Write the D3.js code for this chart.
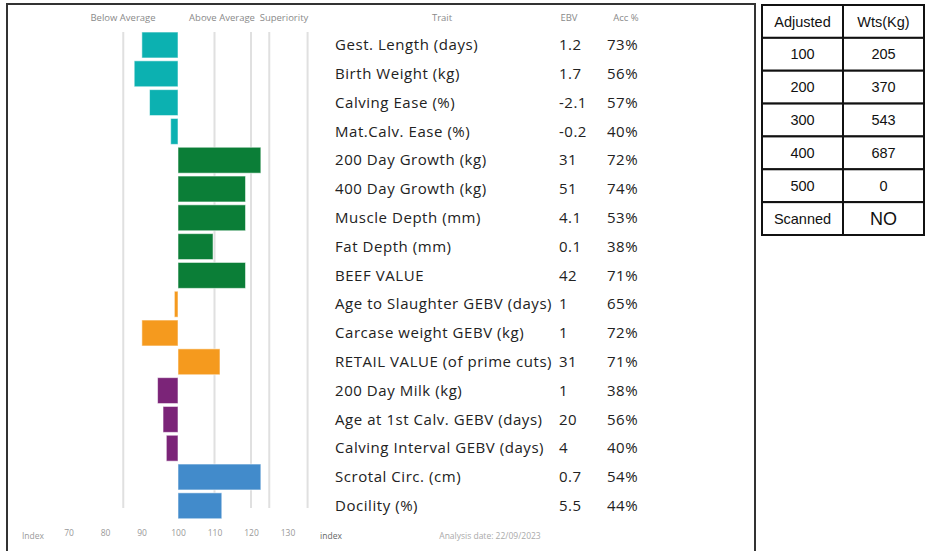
<!DOCTYPE html>
<html>
<head>
<meta charset="utf-8">
<script src="https://cdn.jsdelivr.net/npm/d3@7"></script>
<style>
  body { margin: 0; background: #fff; }
  svg text { font-family: "Open Sans", Lato, sans-serif; }
</style>
</head>
<body>
<svg width="925" height="551"></svg>
<script>
// traits, grouped by colour
var traits = ["Gest. Length (days)", "Birth Weight (kg)", "Calving Ease (%)", "Mat.Calv. Ease (%)",
  "200 Day Growth (kg)", "400 Day Growth (kg)", "Muscle Depth (mm)", "Fat Depth (mm)", "BEEF VALUE",
  "Age to Slaughter GEBV (days)", "Carcase weight GEBV (kg)", "RETAIL VALUE (of prime cuts)",
  "200 Day Milk (kg)", "Age at 1st Calv. GEBV (days)", "Calving Interval GEBV (days)",
  "Scrotal Circ. (cm)", "Docility (%)"];
var groups = ["calving", "calving", "calving", "calving",
  "growth", "growth", "growth", "growth", "growth",
  "carcase", "carcase", "carcase",
  "female", "female", "female",
  "other", "other"];
var ebv = ["1.2", "1.7", "-2.1", "-0.2", "31", "51", "4.1", "0.1", "42", "1", "1", "31", "1", "20", "4", "0.7", "5.5"];
var acc = ["73%", "56%", "57%", "40%", "72%", "74%", "53%", "38%", "71%", "65%", "72%", "71%", "38%", "56%", "40%", "54%", "44%"];
// index value of each bar (100 = breed average)
var index = [90.1, 88, 92.2, 98, 122.7, 118.5, 118.5, 109.6, 118.5, 99, 90.1, 111.5, 94.4, 95.9, 96.8, 122.7, 112];

var axisTicks = [70, 80, 90, 100, 110, 120, 130];
var gridLines = [85, 110, 120, 125, 135.5];

var tableRows = [["Adjusted", "Wts(Kg)"], ["100", "205"], ["200", "370"], ["300", "543"],
  ["400", "687"], ["500", "0"], ["Scanned", "NO"]];

var colors = { calving: "#0cb1b1", growth: "#0b7e37", carcase: "#f59a1e", female: "#7b2478", other: "#428bcb" };

var svg = d3.select("svg");

var x = d3.scaleLinear().domain([70, 130]).range([68.5, 287.5]);
var y = d3.scaleBand().domain(traits).range([30.6, 520.2]).paddingInner(0.1).paddingOuter(0.05);

// frame
svg.append("rect")
    .attr("x", 7).attr("y", 4)
    .attr("width", 748).attr("height", 560)
    .attr("fill", "none").attr("stroke", "#333").attr("stroke-width", 2);

// grid
svg.selectAll(".grid")
  .data(gridLines)
  .enter().append("line")
    .attr("class", "grid")
    .attr("x1", function(d) { return x(d); }).attr("x2", function(d) { return x(d); })
    .attr("y1", 32).attr("y2", 508)
    .attr("stroke", "#e0e0e0").attr("stroke-width", 2);

// bars
var rows = traits.map(function(t, i) {
  return { trait: t, group: groups[i], ebv: ebv[i], acc: acc[i], index: index[i] };
});

svg.selectAll(".bar")
  .data(rows)
  .enter().append("rect")
    .attr("class", "bar")
    .attr("x", function(d) { return x(Math.min(100, d.index)); })
    .attr("y", function(d) { return y(d.trait); })
    .attr("width", function(d) { return Math.abs(x(d.index) - x(100)); })
    .attr("height", y.bandwidth())
    .attr("fill", function(d) { return colors[d.group]; })
    .attr("stroke", "rgba(255,255,255,0.55)").attr("stroke-width", 1);

// header labels
var head = [["Below Average", 123], ["Above Average", 222], ["Superiority", 284],
  ["Trait", 442], ["EBV", 569], ["Acc %", 626]];
svg.selectAll(".head")
  .data(head)
  .enter().append("text")
    .attr("class", "head")
    .attr("x", function(d) { return d[1]; }).attr("y", 21)
    .attr("text-anchor", "middle")
    .attr("font-size", 9.5).attr("fill", "#8a8a8a")
    .text(function(d) { return d[0]; });

// table columns
var row = svg.selectAll(".row")
  .data(rows)
  .enter().append("g")
    .attr("class", "row")
    .attr("transform", function(d) { return "translate(0," + (y(d.trait) + y.bandwidth() / 2) + ")"; });

row.append("text").attr("x", 335).attr("dy", "0.35em")
    .attr("font-size", 15).attr("letter-spacing", 0.55).attr("fill", "#222")
    .text(function(d) { return d.trait; });
row.append("text").attr("x", 559).attr("dy", "0.35em")
    .attr("font-size", 15).attr("letter-spacing", 0.5).attr("fill", "#222")
    .text(function(d) { return d.ebv; });
row.append("text").attr("x", 607).attr("dy", "0.35em")
    .attr("font-size", 15).attr("letter-spacing", 0.5).attr("fill", "#222")
    .text(function(d) { return d.acc; });

// index axis
var axis = svg.append("g")
    .attr("transform", "translate(0,526)")
    .call(d3.axisBottom(x).tickValues(axisTicks).tickSize(0).tickPadding(4));
axis.select(".domain").remove();
axis.selectAll("text").attr("font-size", 8.5).attr("fill", "#999")
    .style("font-family", "'Open Sans', sans-serif");

svg.append("text").attr("x", 33).attr("y", 539).attr("text-anchor", "middle")
    .attr("font-size", 8.5).attr("fill", "#999").text("Index");
svg.append("text").attr("x", 331).attr("y", 539).attr("text-anchor", "middle")
    .attr("font-size", 8.5).attr("fill", "#666").text("index");
svg.append("text").attr("x", 490).attr("y", 539).attr("text-anchor", "middle")
    .attr("font-size", 8.5).attr("fill", "#aaa").text("Analysis date: 22/09/2023");

// weights table
var tx = d3.scaleBand().domain([0, 1]).range([762, 924]);
var ty = d3.scaleBand().domain(d3.range(tableRows.length)).range([5, 235]);

var cells = [];
tableRows.forEach(function(r, i) {
  r.forEach(function(v, j) { cells.push({ r: i, c: j, v: v }); });
});

var cell = svg.selectAll(".cell")
  .data(cells)
  .enter().append("g")
    .attr("class", "cell");

cell.append("rect")
    .attr("x", function(d) { return tx(d.c); })
    .attr("y", function(d) { return ty(d.r); })
    .attr("width", tx.bandwidth()).attr("height", ty.bandwidth())
    .attr("fill", "#fff").attr("stroke", "#111").attr("stroke-width", 2);

cell.append("text")
    .attr("x", function(d) { return tx(d.c) + tx.bandwidth() / 2; })
    .attr("y", function(d) { return ty(d.r) + ty.bandwidth() / 2; })
    .attr("dy", "0.35em")
    .attr("text-anchor", "middle")
    .style("font-family", "'Liberation Sans', Arial, sans-serif")
    .attr("font-size", function(d) { return d.v === "NO" ? 18 : 14.5; })
    .attr("fill", "#111")
    .text(function(d) { return d.v; });
</script>
</body>
</html>
